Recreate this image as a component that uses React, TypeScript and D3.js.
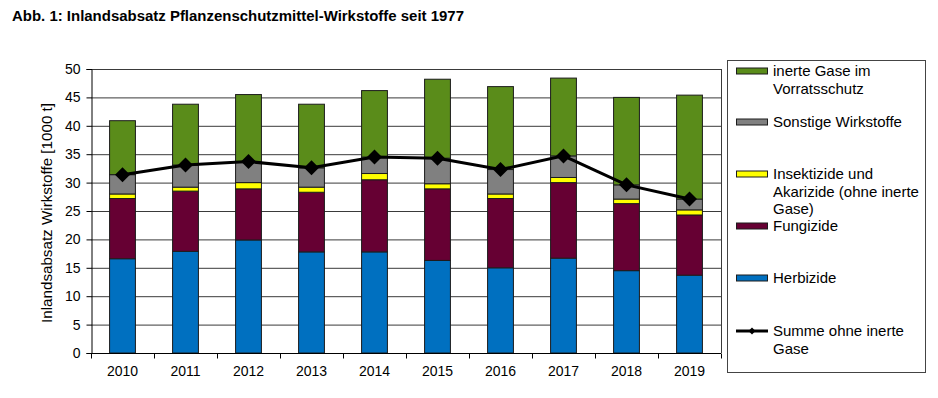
import * as d3 from 'd3';
import { useEffect, useRef } from 'react';

const years = ['2010', '2011', '2012', '2013', '2014', '2015', '2016', '2017', '2018', '2019'];
// 1000 t
const herbizide = [16.6, 17.9, 19.9, 17.8, 17.8, 16.3, 15.0, 16.7, 14.5, 13.7];
const fungizide = [10.6, 10.6, 9.0, 10.5, 12.7, 12.6, 12.2, 13.3, 11.8, 10.6];
const insektizide = [0.8, 0.7, 1.1, 0.9, 1.1, 0.9, 0.8, 0.9, 0.8, 0.9];
const sonstige = [3.4, 3.9, 3.7, 3.4, 2.9, 4.5, 4.3, 3.8, 2.5, 1.9];
const inerteGase = [9.5, 10.7, 11.8, 11.2, 11.7, 13.9, 14.6, 13.7, 15.4, 18.3];
const summeOhneInerte = [31.4, 33.1, 33.7, 32.6, 34.5, 34.3, 32.3, 34.7, 29.6, 27.1];
const yTicks = [0, 5, 10, 15, 20, 25, 30, 35, 40, 45, 50];

const seriesDefs = [
  { key: 'herb', values: herbizide, color: '#0070C0' },
  { key: 'fung', values: fungizide, color: '#660033' },
  { key: 'insekt', values: insektizide, color: '#FFFF00' },
  { key: 'sonst', values: sonstige, color: '#808080' },
  { key: 'inert', values: inerteGase, color: '#5A8C1A' },
];

const legendItems = [
  { lines: ['inerte Gase im', 'Vorratsschutz'], color: '#5A8C1A', y: 71 },
  { lines: ['Sonstige Wirkstoffe'], color: '#808080', y: 122 },
  { lines: ['Insektizide und', 'Akarizide (ohne inerte', 'Gase)'], color: '#FFFF00', y: 174 },
  { lines: ['Fungizide'], color: '#660033', y: 226 },
  { lines: ['Herbizide'], color: '#0070C0', y: 278 },
  { lines: ['Summe ohne inerte', 'Gase'], color: null, y: 331 },
];

const FONT = 'Liberation Sans, Arial, sans-serif';

export default function App() {
  const ref = useRef<SVGSVGElement>(null);

  useEffect(() => {
    if (!ref.current) return;
    const svg = d3.select(ref.current);
    svg.selectAll('*').remove();

    const left = 91;
    const right = 721;
    const top = 69;
    const bottom = 353;

    const x = d3.scaleBand<string>().domain(years).range([left, right]);
    const y = d3.scaleLinear().domain([0, 50]).range([bottom, top]);
    const barW = x.bandwidth() * 0.41;

    // title
    svg.append('text')
      .attr('x', 12).attr('y', 21)
      .attr('font-family', FONT).attr('font-weight', 'bold').attr('font-size', 14)
      .attr('textLength', 452).attr('lengthAdjust', 'spacingAndGlyphs')
      .text('Abb. 1: Inlandsabsatz Pflanzenschutzmittel-Wirkstoffe seit 1977');

    // grid lines
    svg.append('g').selectAll('line')
      .data(yTicks)
      .join('line')
      .attr('x1', left).attr('x2', right)
      .attr('y1', (d) => y(d) + 0.5).attr('y2', (d) => y(d) + 0.5)
      .attr('stroke', '#3a3a3a').attr('stroke-width', 1);

    // right border
    svg.append('line')
      .attr('x1', right + 0.5).attr('x2', right + 0.5)
      .attr('y1', top).attr('y2', bottom)
      .attr('stroke', '#3a3a3a');

    // stacked bars
    const table = years.map((yr, i) => {
      const row: Record<string, number | string> = { year: yr };
      seriesDefs.forEach((s) => { row[s.key] = s.values[i]; });
      return row;
    });
    const stack = d3.stack<Record<string, number | string>>().keys(seriesDefs.map((s) => s.key));
    const layers = stack(table as any);

    layers.forEach((layer, li) => {
      svg.append('g').selectAll('rect')
        .data(layer)
        .join('rect')
        .attr('x', (d) => (x(String(d.data.year)) ?? 0) + (x.bandwidth() - barW) / 2)
        .attr('y', (d) => y(d[1]))
        .attr('width', barW)
        .attr('height', (d) => y(d[0]) - y(d[1]))
        .attr('fill', seriesDefs[li].color)
        .attr('stroke', '#1c1c1c')
        .attr('stroke-width', 1);
    });

    // y axis
    const yAxis = svg.append('g')
      .attr('transform', `translate(${left + 0.5},0)`)
      .call(d3.axisLeft(y).tickValues(yTicks).tickSize(5).tickPadding(6));
    yAxis.select('.domain').attr('stroke', '#000');
    yAxis.selectAll('.tick line').attr('stroke', '#000');
    yAxis.selectAll('.tick text')
      .attr('font-family', FONT).attr('font-size', 14).attr('fill', '#000');

    // x axis
    const xAxis = svg.append('g')
      .attr('transform', `translate(0,${bottom + 0.5})`);
    xAxis.append('line')
      .attr('x1', left).attr('x2', right)
      .attr('stroke', '#000');
    xAxis.selectAll('line.tk')
      .data(years.concat(['end']))
      .join('line')
      .attr('class', 'tk')
      .attr('x1', (d, i) => left + i * x.step() + 0.5)
      .attr('x2', (d, i) => left + i * x.step() + 0.5)
      .attr('y1', 0).attr('y2', 5)
      .attr('stroke', '#000');
    xAxis.selectAll('text')
      .data(years)
      .join('text')
      .attr('x', (d) => (x(d) ?? 0) + x.bandwidth() / 2)
      .attr('y', 22)
      .attr('text-anchor', 'middle')
      .attr('font-family', FONT).attr('font-size', 14)
      .text((d) => d);

    // y label
    svg.append('text')
      .attr('transform', `translate(52,${(top + bottom) / 2 + 2}) rotate(-90)`)
      .attr('text-anchor', 'middle')
      .attr('font-family', FONT).attr('font-size', 14)
      .attr('textLength', 220).attr('lengthAdjust', 'spacingAndGlyphs')
      .text('Inlandsabsatz Wirkstoffe [1000 t]');

    // summe line
    const line = d3.line<number>()
      .x((_, i) => (x(years[i]) ?? 0) + x.bandwidth() / 2)
      .y((d) => y(d));
    svg.append('path')
      .datum(summeOhneInerte)
      .attr('fill', 'none')
      .attr('stroke', '#000')
      .attr('stroke-width', 3)
      .attr('d', line);
    svg.append('g').selectAll('path')
      .data(summeOhneInerte)
      .join('path')
      .attr('transform', (d, i) => `translate(${(x(years[i]) ?? 0) + x.bandwidth() / 2},${y(d)})`)
      .attr('d', 'M0,-7.5L7.5,0L0,7.5L-7.5,0Z')
      .attr('fill', '#000');

    // legend
    const lg = svg.append('g');
    lg.append('rect')
      .attr('x', 727.5).attr('y', 60.5)
      .attr('width', 198).attr('height', 312)
      .attr('fill', '#fff').attr('stroke', '#444');
    legendItems.forEach((item) => {
      if (item.color) {
        lg.append('rect')
          .attr('x', 736.5).attr('y', item.y - 3)
          .attr('width', 31).attr('height', 6)
          .attr('fill', item.color).attr('stroke', '#1c1c1c');
      } else {
        lg.append('line')
          .attr('x1', 736).attr('x2', 768)
          .attr('y1', item.y).attr('y2', item.y)
          .attr('stroke', '#000').attr('stroke-width', 3);
        lg.append('path')
          .attr('transform', `translate(752,${item.y})`)
          .attr('d', 'M0,-3.5L3.5,0L0,3.5L-3.5,0Z')
          .attr('fill', '#000');
      }
      item.lines.forEach((ln, j) => {
        lg.append('text')
          .attr('x', 773)
          .attr('y', item.y + 5 + j * 17.5)
          .attr('font-family', FONT).attr('font-size', 15)
          .text(ln);
      });
    });
  }, []);

  return (
    <svg
      ref={ref}
      width={938}
      height={398}
      style={{ position: 'absolute', left: 0, top: 0, background: '#fff' }}
    />
  );
}
